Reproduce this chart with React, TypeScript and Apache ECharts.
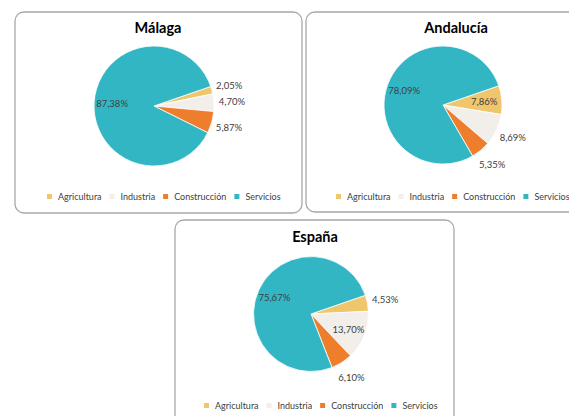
import React, { useEffect, useRef } from "react";
import * as echarts from "echarts";

const categories = ["Agricultura", "Industria", "Construcción", "Servicios"];
const colors = ["#F0C66C", "#F2EEE9", "#EE7D2C", "#33B6C4"];

const malagaValues = [2.05, 4.7, 5.87, 87.38];
const andaluciaValues = [7.86, 8.69, 5.35, 78.09];
const espanaValues = [4.53, 13.7, 6.1, 75.67];

// which labels are drawn inside the slice
const malagaInside = [false, false, false, true];
const andaluciaInside = [true, false, false, true];
const espanaInside = [false, true, false, true];

const titles = ["Málaga", "Andalucía", "España"];

const FONT = "Lato, 'Liberation Sans', Arial, sans-serif";

const fmt = (v: number) => v.toFixed(2).replace(".", ",") + "%";

type Panel = {
  title: string;
  values: number[];
  inside: boolean[];
  cx: number;
  cy: number;
  r: number;
  box: [number, number, number, number];
  titleX: number;
  titleY: number;
  legendLeft: number;
  legendTop: number;
};

const panels: Panel[] = [
  {
    title: titles[0], values: malagaValues, inside: malagaInside,
    cx: 154, cy: 106, r: 60, box: [15, 12, 287, 201],
    titleX: 158, titleY: 27, legendLeft: 45, legendTop: 192,
  },
  {
    title: titles[1], values: andaluciaValues, inside: andaluciaInside,
    cx: 443, cy: 105, r: 59, box: [306, 12, 280, 200],
    titleX: 456, titleY: 27, legendLeft: 334, legendTop: 192,
  },
  {
    title: titles[2], values: espanaValues, inside: espanaInside,
    cx: 311, cy: 314, r: 57.5, box: [175, 220, 279, 210],
    titleX: 315, titleY: 236, legendLeft: 202, legendTop: 401,
  },
];

const labelStyle = {
  fontFamily: FONT,
  fontSize: 9.5,
  color: "#404040",
};

function buildOption() {
  const series: any[] = [];
  const legends: any[] = [];
  const graphics: any[] = [];

  panels.forEach((p) => {
    graphics.push({
      type: "rect",
      z: -10,
      shape: { x: p.box[0], y: p.box[1], width: p.box[2], height: p.box[3], r: 9 },
      style: { fill: "#fff", stroke: "#A8A8A8", lineWidth: 1.3 },
      silent: true,
    });
    graphics.push({
      type: "text",
      z: 10,
      style: {
        text: p.title,
        x: p.titleX,
        y: p.titleY,
        textAlign: "center",
        textVerticalAlign: "middle",
        font: `bold 14.5px ${FONT}`,
        fill: "#000",
      },
    });

    const dataVisible = categories.map((name, i) => ({
      name,
      value: p.values[i],
      itemStyle: { color: colors[i] },
    }));

    series.push({
      type: "pie",
      name: p.title,
      center: [p.cx, p.cy],
      radius: p.r,
      startAngle: 19,
      clockwise: true,
      silent: true,
      label: { show: false },
      labelLine: { show: false },
      itemStyle: { borderColor: "#ffffff", borderWidth: 0.8 },
      emphasis: { disabled: true },
      data: dataVisible,
    });

    // inside labels: overlay of radius 1.3r => labels at 0.65r
    series.push({
      type: "pie",
      name: p.title + "-in",
      center: [p.cx, p.cy],
      radius: p.r * 1.3,
      startAngle: 19,
      clockwise: true,
      silent: true,
      avoidLabelOverlap: false,
      itemStyle: { color: "rgba(0,0,0,0)", borderWidth: 0 },
      labelLine: { show: false },
      emphasis: { disabled: true },
      z: 5,
      data: categories.map((name, i) => ({
        name,
        value: p.values[i],
        label: {
          show: p.inside[i],
          position: "inside",
          formatter: () => fmt(p.values[i]),
          ...labelStyle,
        },
      })),
    });

    // outside labels: overlay of radius 2(r+15) => labels at r+15
    series.push({
      type: "pie",
      name: p.title + "-out",
      center: [p.cx, p.cy],
      radius: (p.r + 15) * 2,
      startAngle: 19,
      clockwise: true,
      silent: true,
      avoidLabelOverlap: false,
      itemStyle: { color: "rgba(0,0,0,0)", borderWidth: 0 },
      labelLine: { show: false },
      emphasis: { disabled: true },
      z: 5,
      data: categories.map((name, i) => ({
        name,
        value: p.values[i],
        label: {
          show: !p.inside[i],
          position: "inside",
          formatter: () => fmt(p.values[i]),
          ...labelStyle,
        },
      })),
    });

    legends.push({
      left: p.legendLeft,
      top: p.legendTop,
      width: 260,
      orient: "horizontal",
      itemWidth: 7,
      itemHeight: 7,
      itemGap: 6,
      icon: "rect",
      selectedMode: false,
      padding: 0,
      textStyle: { fontFamily: FONT, fontSize: 9, color: "#404040" },
      data: categories.map((name, i) => ({
        name,
        itemStyle: { color: colors[i] },
      })),
    });
  });

  return {
    animation: false,
    backgroundColor: "#ffffff",
    legend: legends,
    graphic: graphics,
    series,
  };
}

export default function App() {
  const ref = useRef<HTMLDivElement>(null);
  useEffect(() => {
    if (!ref.current) return;
    const chart = echarts.init(ref.current, null, { renderer: "svg" });
    chart.setOption(buildOption());
    return () => chart.dispose();
  }, []);
  return (
    <div
      ref={ref}
      style={{ position: "fixed", left: 0, top: 0, width: 569, height: 416 }}
    />
  );
}
